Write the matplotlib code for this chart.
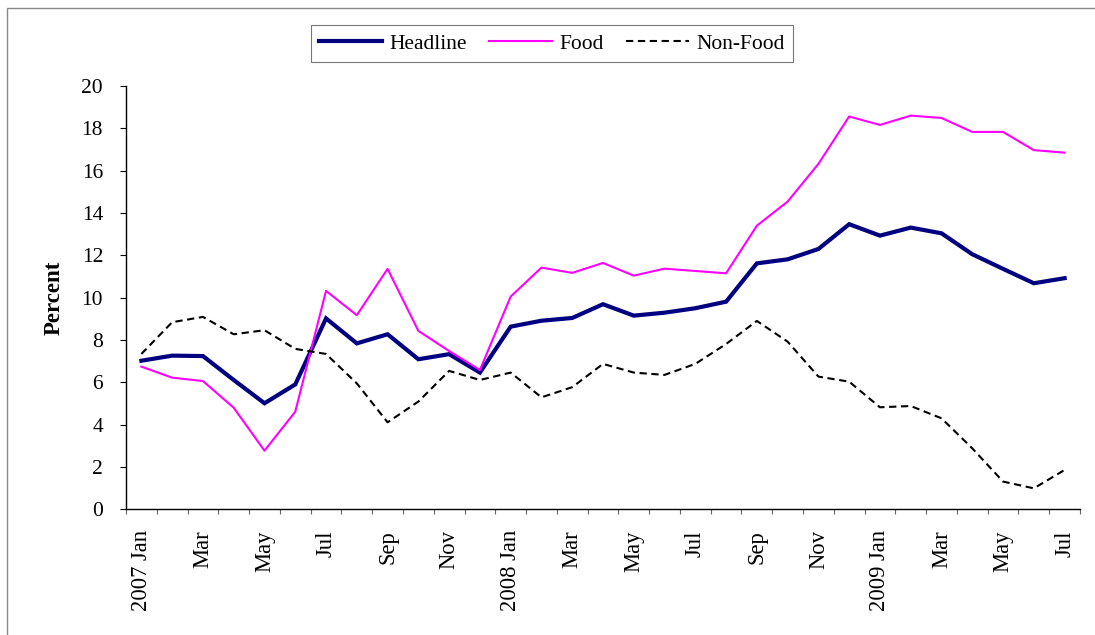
import numpy as np
import matplotlib
matplotlib.use("Agg")
import matplotlib.pyplot as plt
from matplotlib.patches import Rectangle


MONTHS = ["Jan", "Feb", "Mar", "Apr", "May", "Jun",
          "Jul", "Aug", "Sep", "Oct", "Nov", "Dec"]
YEARS = [2007, 2008, 2009]

headline = [7.02, 7.26, 7.24, 6.11, 5.01, 5.90, 9.02, 7.84, 8.27, 7.09, 7.33,
            6.46, 8.63, 8.91, 9.04, 9.69, 9.15, 9.29, 9.50, 9.81, 11.62, 11.81,
            12.30, 13.47, 12.93, 13.31, 13.04, 12.05, 11.36, 10.68, 10.92]
food = [6.74, 6.22, 6.06, 4.80, 2.77, 4.61, 10.32, 9.17, 11.36, 8.43, 7.48,
        6.58, 10.05, 11.42, 11.17, 11.64, 11.04, 11.37, 11.26, 11.15, 13.40,
        14.54, 16.32, 18.56, 18.16, 18.60, 18.49, 17.83, 17.83, 16.97, 16.85]
non_food = [7.34, 8.84, 9.09, 8.27, 8.46, 7.58, 7.34, 5.95, 4.11, 5.09, 6.54,
            6.11, 6.46, 5.29, 5.77, 6.87, 6.46, 6.35, 6.87, 7.81, 8.90, 7.92,
            6.27, 6.03, 4.82, 4.88, 4.30, 2.88, 1.31, 0.99, 1.86]

# month labels, every other month, year shown on January
labels = []
for i in range(len(headline)):
    year = YEARS[i // 12]
    month = MONTHS[i % 12]
    labels.append(f"{year} {month}" if month == "Jan" else month)

plt.rcParams["font.family"] = ["Liberation Serif", "DejaVu Serif"]

fig = plt.figure(figsize=(10.95, 6.35), dpi=100)
ax = fig.add_axes([126 / 1095, 1 - 509.3 / 635, (1080 - 126) / 1095, (509.3 - 86) / 635])

x = np.arange(len(headline))
ax.plot(x, headline, color="#000080", lw=3.0, label="Headline", solid_joinstyle="miter")
ax.plot(x, food, color="#FF00FF", lw=1.5, label="Food")
ax.plot(x, non_food, color="black", lw=1.5, ls=(0, (3.5, 2.2)), label="Non-Food")

ax.set_xlim(-0.5, len(headline) - 0.5)
ax.set_ylim(0, 20)
ax.set_yticks(range(0, 21, 2))
ax.tick_params(axis="y", labelsize=15.5, length=4.5, width=0.8, direction="out", pad=12)

ax.set_xticks(x[::2])
ax.set_xticklabels(labels[::2], rotation=90, fontsize=16.3)
ax.set_xticks(np.arange(-0.5, len(headline)), minor=True)
ax.tick_params(axis="x", which="major", length=0, pad=15)
ax.tick_params(axis="x", which="minor", length=3.6, width=0.8, color="#666666")

for side in ["top", "right"]:
    ax.spines[side].set_visible(False)
for side in ["left", "bottom"]:
    ax.spines[side].set_linewidth(1.0)

ax.set_ylabel("Percent", fontsize=16.5, fontweight="bold", labelpad=12)

leg = fig.legend(loc="center", bbox_to_anchor=(552 / 1095, 1 - 43.5 / 635), ncol=3,
                 fontsize=15.5, frameon=True, fancybox=False, handlelength=2.9,
                 handletextpad=0.35, columnspacing=1.05, borderpad=0.4)
leg.get_frame().set_edgecolor("#555555")
leg.get_frame().set_linewidth(0.8)

fig.patches.append(Rectangle((7 / 1095, -0.1), 1.2, 1.1 - 8 / 635, transform=fig.transFigure,
                             fill=False, edgecolor="#888888", lw=1.0))

fig.savefig("out.png", dpi=100)
